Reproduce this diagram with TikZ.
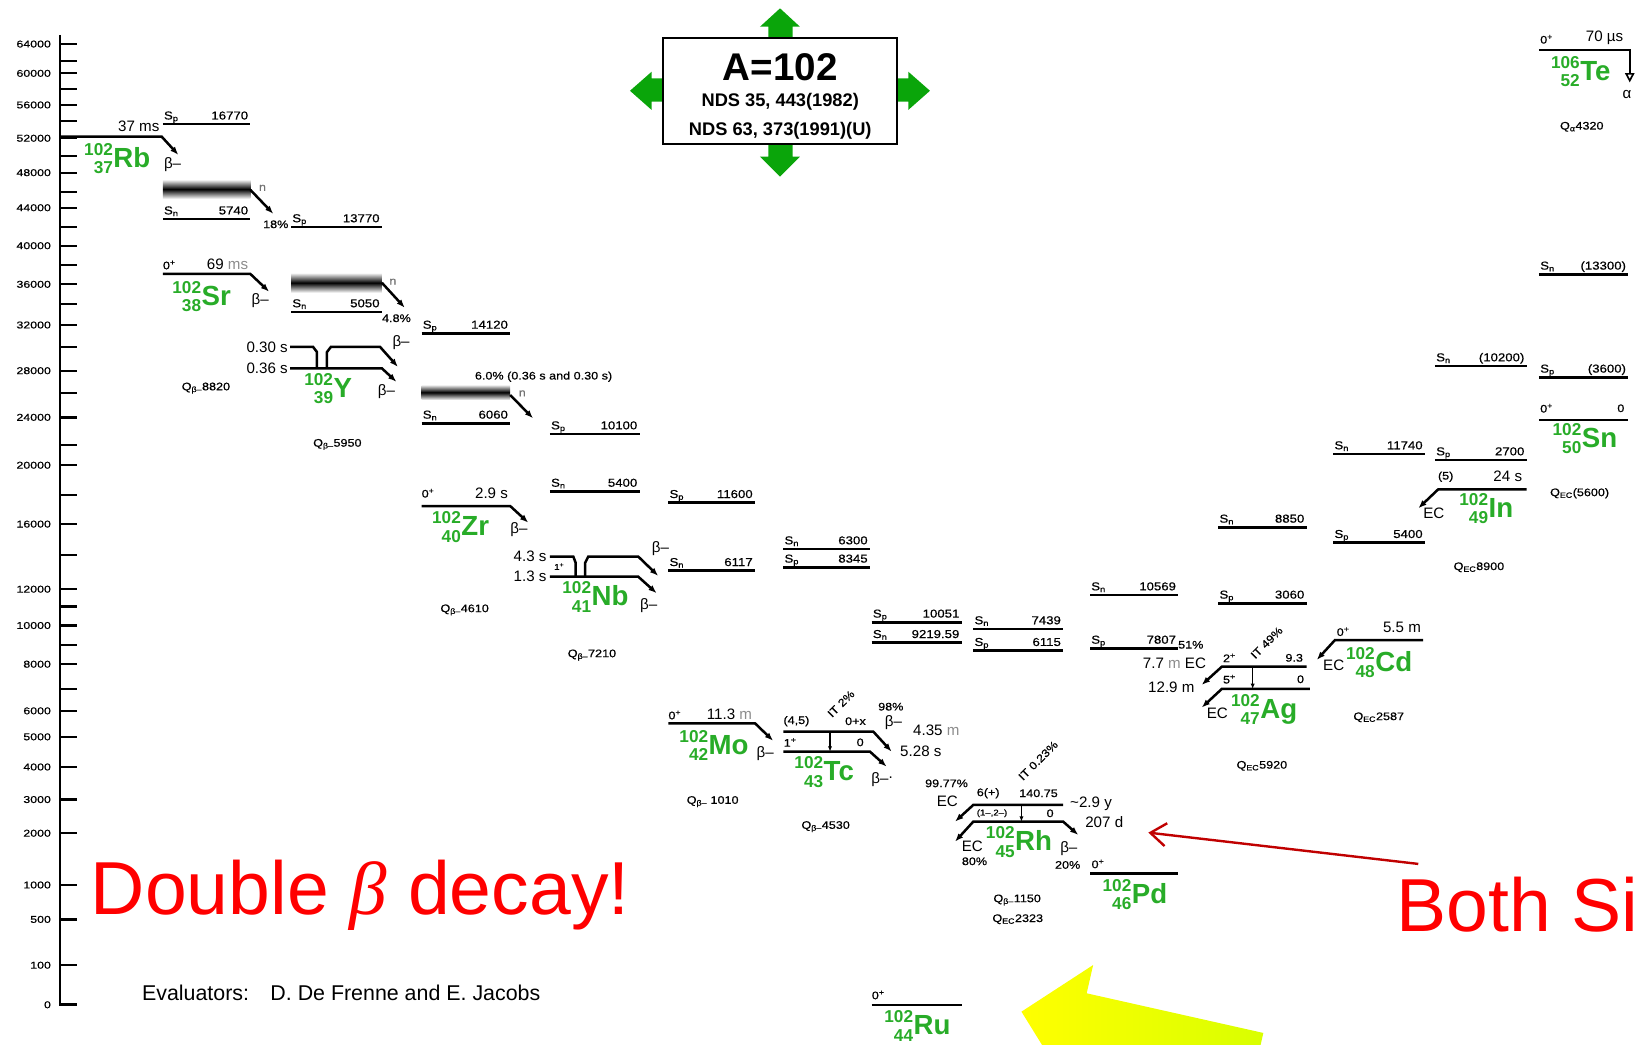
\documentclass[tikz,border=0pt]{standalone}
\usepackage{fontspec}
\setmainfont{Liberation Sans}
\newfontfamily\widesf{Liberation Sans}[FakeStretch=1.15,FakeBold=0.6]
\newfontfamily\axisf{Liberation Sans}[FakeStretch=1.25,FakeBold=0.6]
\newfontfamily\greekserif{Liberation Serif}
\usetikzlibrary{arrows.meta}

\definecolor{nucg}{RGB}{40,172,40}
\definecolor{boxg}{RGB}{10,165,10}
\definecolor{arrred}{RGB}{192,0,0}
\definecolor{midyel}{RGB}{212,246,44}

% nuclide symbol with mass number (A) and atomic number (Z) stacked on the left
\newcommand{\nuclide}[3]{\textcolor{nucg}{\bfseries
  \fontsize{16.5}{16.5}\selectfont
  \setbox0=\hbox{#1}\setbox2=\hbox{#2}%
  \ifdim\wd0>\wd2\relax\dimen0=\wd0\else\dimen0=\wd2\fi
  \hbox to\dimen0{\hss\llap{\raisebox{11.6pt}{\box0}}\llap{\raisebox{-6pt}{\box2}}}%
  \kern0.5pt\fontsize{26.5}{26.5}\selectfont#3}}

% separation-energy line: name, x1, x2, y, subscript, value
\newcommand{\slev}[6]{%
  \draw[lev] (#2,#4) -- (#3,#4);
  \node[sl,anchor=base west] (#1-s) at (#2+1,#4-4.5) {S\textsubscript{#5}};
  \node[sl,anchor=base east] (#1-v) at (#3-2,#4-4.5) {#6};
}

\begin{document}
\begin{tikzpicture}[x=1pt,y=-1pt,
  lev/.style={line width=2.4pt},
  dec/.style={line width=2.4pt,-{Latex[length=8pt,width=6pt]}},
  decb/.style={line width=2.4pt,{Latex[length=8pt,width=6pt]}-{Latex[length=8pt,width=6pt]}},
  itar/.style={line width=1.3pt,-{Latex[length=5pt,width=4pt]}},
  tick/.style={line width=2.2pt},
  axl/.style={font=\axisf\fontsize{9.5}{9.5}\selectfont,anchor=east,inner sep=0pt},
  sl/.style={font=\widesf\fontsize{11}{11}\selectfont,inner sep=0pt},
  sm/.style={font=\widesf\fontsize{10.5}{10.5}\selectfont,inner sep=0pt,anchor=west},
  hl/.style={font=\fontsize{14.5}{14.5}\selectfont,inner sep=0pt},
  band/.style={top color=black!6,bottom color=black!6,middle color=black},
  nuc/.style={anchor=base west,inner sep=0pt},
  big/.style={font=\fontsize{72}{72}\selectfont,text=red,inner sep=0pt,anchor=base west},
]
\useasboundingbox (0,0) rectangle (1568,1001);
\clip (0,0) rectangle (1568,1001);

% ---------------- energy axis ----------------
\draw[line width=2.6pt] (57.5,33.5) -- (57.5,963) -- (74,963);
\foreach \v/\yy in {64000/42.2,60000/70.3,56000/100.6,52000/132.5,48000/165.5,
  44000/199.1,40000/235.5,36000/272.5,32000/311.5,28000/355.3,24000/400,
  20000/445.9,16000/502.3,12000/564.7,10000/599.5,8000/636.6,6000/681.3,
  5000/706.2,4000/735.1,3000/766.3,2000/798.6,1000/848.2,500/881.2,100/925.1,0/963}{
  \draw[tick] (57.5,\yy) -- (74,\yy);
  \node[axl] (ax\v) at (49,\yy) {\v};
}
\foreach \yy in {58.2,85.6,115.7,149.5,183.7,217.3,254,291.4,332.3,376.4,
  426.4,474.4,531.6,581.2,618.2,660.1}
  \draw[tick] (57.5,\yy) -- (74,\yy);

% ---------------- title box with green arrows ----------------
\fill[boxg] (736.4,37) -- (736.4,25.6) -- (728.4,25.6) -- (747.6,8) -- (766.7,25.6) -- (759.7,25.6) -- (759.7,37) -- cycle;
\fill[boxg] (736.4,138) -- (736.4,150.2) -- (728.4,150.2) -- (747.6,169.3) -- (766.7,150.2) -- (759.7,150.2) -- (759.7,138) -- cycle;
\fill[boxg] (636,75) -- (624.6,75) -- (624.6,68.7) -- (603.8,87) -- (624.6,105.4) -- (624.6,97.5) -- (636,97.5) -- cycle;
\fill[boxg] (860,75) -- (870.5,75) -- (870.5,68.7) -- (891.3,87) -- (870.5,105.4) -- (870.5,97.5) -- (860,97.5) -- cycle;
\node[draw,line width=1.8pt,fill=white,minimum width=224pt,minimum height=101pt,inner sep=0pt] (title) at (747.8,87.3) {};
\node[anchor=base,inner sep=0pt,font=\bfseries\fontsize{37}{37}\selectfont] (mass) at (747.8,76.7) {A=102};
\node[anchor=base,inner sep=0pt,font=\bfseries\fontsize{17.5}{17.5}\selectfont] (ref1) at (747.8,102) {NDS 35, 443(1982)};
\node[anchor=base,inner sep=0pt,font=\bfseries\fontsize{17.5}{17.5}\selectfont] (ref2) at (747.8,129.4) {NDS 63, 373(1991)(U)};

% ---------------- Rb ----------------
\slev{rbp}{156}{240}{119}{p}{16770}
\draw[dec] (57.5,131) -- (155,131) -- (171,148.5);
\node[hl,anchor=east] (rbhl) at (153,121) {37 ms};
\node[hl,anchor=west] (rbb) at (157,158) {β–};
\node[nuc] (rb) at (80.5,160.5) {\nuclide{102}{37}{Rb}};
\shade[band] (156,172.5) rectangle (240,190);
\draw[dec] (240,182) -- (262,205);
\node[sm,text=black!55] (rbnn) at (248,180) {n};
\slev{rbn}{156}{240}{210}{n}{5740}
\node[sm] (rbpc) at (252,215) {18\%};
\node[sm] (rbq) at (174,372) {Q\textsubscript{β–}8820};

% ---------------- Sr ----------------
\draw[dec] (156,262.6) -- (240,262.6) -- (258,279.6);
\node[sm] (srj) at (156,254) {0\textsuperscript{+}};
\node[hl,anchor=east] (srhl) at (238,253) {69 {\color{black!45}ms}};
\node[hl,anchor=west] (srb) at (241,288) {β–};
\node[nuc] (sr) at (165,293) {\nuclide{102}{38}{Sr}};

% ---------------- Y ----------------
\slev{yp}{279}{366}{217.5}{p}{13770}
\shade[band] (279,262) rectangle (366,280);
\draw[dec] (366,271) -- (388,295);
\node[sm,text=black!55] (ynn) at (373,270) {n};
\slev{yn}{279}{366}{299}{n}{5050}
\node[sm] (ypc) at (366,305) {4.8\%};
\draw[lev] (278,332.4) -- (300,332.4) -- (303.8,337.4) -- (303.8,353);
\draw[dec] (313.4,353) -- (313.4,337.4) -- (317.2,332.4) -- (364.2,332.4) -- (381.4,351.7);
\draw[dec] (278,353) -- (366,353) -- (380,366);
\node[hl,anchor=east] (yhl1) at (276,332.4) {0.30 s};
\node[hl,anchor=east] (yhl2) at (276,353) {0.36 s};
\node[hl,anchor=west] (yb1) at (376,328) {β–};
\node[hl,anchor=west] (yb2) at (362,375.6) {β–};
\node[nuc] (y) at (291.5,381) {\nuclide{102}{39}{Y}};
\node[sm] (yq) at (300,426) {Q\textsubscript{β–}5950};

% ---------------- Zr ----------------
\slev{zrp}{404}{489}{319.5}{p}{14120}
\node[sm] (zrdn) at (455,361) {6.0\% (0.36 s and 0.30 s)};
\shade[band] (404,369) rectangle (489,383);
\draw[dec] (489,378.6) -- (511,401);
\node[sm,text=black!55] (zrnn) at (497,377) {n};
\slev{zrn}{404}{489}{405.7}{n}{6060}
\draw[dec] (404,485) -- (489,485) -- (506.4,501);
\node[sm] (zrj) at (404,472.8) {0\textsuperscript{+}};
\node[hl,anchor=east] (zrhl) at (487,472.8) {2.9 s};
\node[hl,anchor=west] (zrb) at (489,508) {β–};
\node[nuc] (zr) at (414,513.5) {\nuclide{102}{40}{Zr}};
\node[sm] (zrq) at (422,584.6) {Q\textsubscript{β–}4610};

% ---------------- Nb ----------------
\slev{nbp}{527}{613}{416}{p}{10100}
\slev{nbn}{527}{613}{471}{n}{5400}
\draw[lev] (527,533.5) -- (549.5,533.5) -- (551.8,539.6) -- (551.8,552.7);
\draw[dec] (560.7,552.7) -- (560.7,539.6) -- (563.8,533.5) -- (611.8,533.5) -- (630.9,552);
\draw[dec] (527,552.7) -- (611.7,552.7) -- (629.4,568.6);
\node[hl,anchor=east] (nbhl1) at (524,533) {4.3 s};
\node[hl,anchor=east] (nbhl2) at (524,552.7) {1.3 s};
\node[sm,font=\widesf\fontsize{8}{8}\selectfont] (nbj) at (531,543) {1\textsuperscript{+}};
\node[hl,anchor=west] (nbb1) at (624.6,525.5) {β–};
\node[hl,anchor=west] (nbb2) at (613.4,580) {β–};
\node[nuc] (nb) at (538.8,580.6) {\nuclide{102}{41}{Nb}};
\node[sm] (nbq) at (544,627.8) {Q\textsubscript{β–}7210};

% ---------------- Mo ----------------
\slev{mop}{640.5}{723.6}{481.8}{p}{11600}
\slev{mon}{640.5}{723.6}{547}{n}{6117}
\draw[dec] (640.5,693.2) -- (723.6,693.2) -- (741,710);
\node[sm] (moj) at (640.5,685.3) {0\textsuperscript{+}};
\node[hl,anchor=east] (mohl) at (721,684.5) {11.3 {\color{black!45}m}};
\node[hl,anchor=west] (mob) at (725,722) {β–};
\node[nuc] (mo) at (651,722.8) {\nuclide{102}{42}{Mo}};
\node[sm] (moq) at (658,768.3) {Q\textsubscript{β–} 1010};

% ---------------- Tc ----------------
\slev{tcn}{750.7}{833.8}{526.2}{n}{6300}
\slev{tcp}{750.7}{833.8}{543.7}{p}{8345}
\draw[dec] (750.7,701.2) -- (837,701.2) -- (854.6,720.4);
\draw[dec] (750.7,720.4) -- (833.8,720.4) -- (849.8,734.8);
\draw[itar] (795.5,701.2) -- (795.5,720.4);
\node[sm] (tcj1) at (750.7,691.2) {(4,5)};
\node[sm,anchor=east] (tce1) at (830,691.2) {0+x};
\node[sm] (tcj2) at (751,711.5) {1\textsuperscript{+}};
\node[sm,anchor=east] (tce2) at (828,711.5) {0};
\node[sm,anchor=center,rotate=45] (tcit) at (806,674.5) {IT 2\%};
\node[sm] (tcpc) at (841.5,677.3) {98\%};
\node[hl,anchor=west] (tcb1) at (848,693) {β–};
\node[hl,anchor=west] (tchl1) at (875,699.6) {4.35 {\color{black!45}m}};
\node[hl,anchor=west] (tchl2) at (862.6,720.4) {5.28 s};
\node[hl,anchor=west] (tcb2) at (835,747.6) {β–\raisebox{5pt}{.}};
\node[nuc] (tc) at (761.2,748.4) {\nuclide{102}{43}{Tc}};
\node[sm] (tcq) at (768,792.3) {Q\textsubscript{β–}4530};

% ---------------- Ru ----------------
\slev{rup}{835.4}{921.7}{596.4}{p}{10051}
\slev{run}{835.4}{921.7}{616}{n}{9219.59}
\draw[lev] (835.4,963.2) -- (921.7,963.2);
\node[sm] (ruj) at (835.4,953.6) {0\textsuperscript{+}};
\node[nuc] (ru) at (847.4,991.8) {\nuclide{102}{44}{Ru}};

% ---------------- Rh ----------------
\slev{rhn}{932.8}{1019}{602.8}{n}{7439}
\slev{rhp}{932.8}{1019}{623.6}{p}{6115}
\draw[dec] (1019,771.5) -- (932.8,771.5) -- (915.3,787.5);
\draw[decb] (915.3,806.7) -- (932.8,787.5) -- (1019,787.5) -- (1033.5,800.3);
\draw[itar] (979,771.5) -- (979,787.5);
\node[sm] (rhj1) at (936,760.3) {6(+)};
\node[sm,anchor=east] (rhe1) at (1014,760.3) {140.75};
\node[sm,font=\widesf\fontsize{8}{8}\selectfont] (rhj2) at (936,779.5) {(1–,2–)};
\node[sm,anchor=east] (rhe2) at (1010,779.5) {0};
\node[sm,anchor=center,rotate=45] (rhit) at (995,729) {IT 0.23\%};
\node[sm] (rhpc1) at (886.5,750.8) {99.77\%};
\node[hl,anchor=west] (rhec1) at (897.7,768.3) {EC};
\node[hl,anchor=west] (rhhl1) at (1025.5,770) {\textasciitilde 2.9 y};
\node[hl,anchor=west] (rhhl2) at (1040,787.5) {207 d};
\node[hl,anchor=west] (rhb) at (1016,813) {β–};
\node[sm] (rhpc2) at (1011,829) {20\%};
\node[hl,anchor=west] (rhec2) at (921.7,811.5) {EC};
\node[sm] (rhpc3) at (921.7,825.5) {80\%};
\node[nuc] (rh) at (944.8,815.4) {\nuclide{102}{45}{Rh}};
\node[sm] (rhq1) at (952,862.6) {Q\textsubscript{β–}1150};
\node[sm] (rhq2) at (951,881) {Q\textsubscript{EC}2323};

% ---------------- Pd ----------------
\slev{pdn}{1044.7}{1129.3}{570.3}{n}{10569}
\slev{pdp}{1044.7}{1129.3}{621.4}{p}{7807}
\draw[lev] (1044.7,837) -- (1129.3,837);
\node[sm] (pdj) at (1046,828) {0\textsuperscript{+}};
\node[nuc] (pd) at (1056.6,865.9) {\nuclide{102}{46}{Pd}};
\node[sm] (agpc) at (1129,618) {51\%};
\node[hl,anchor=east] (aghl1) at (1156,635.7) {7.7 {\color{black!45}m} EC};
\node[hl,anchor=east] (aghl2) at (1145,658.7) {12.9 m};

% ---------------- Ag ----------------
\slev{agn}{1167.6}{1252.3}{505.4}{n}{8850}
\slev{agp}{1167.6}{1252.3}{578.2}{p}{3060}
\draw[dec] (1252.3,639) -- (1171,639) -- (1151.7,656.5);
\draw[dec] (1255.5,660.3) -- (1171,660.3) -- (1151.7,678.2);
\draw[itar] (1200.6,639) -- (1200.6,660.3);
\node[sm] (agj1) at (1172,630.5) {2\textsuperscript{+}};
\node[sm,anchor=east] (age1) at (1249,630.5) {9.3};
\node[sm] (agj2) at (1172,651) {5\textsuperscript{+}};
\node[sm,anchor=east] (age2) at (1250,651) {0};
\node[sm,anchor=center,rotate=45] (agit) at (1214,616) {IT 49\%};
\node[hl,anchor=west] (agec) at (1156.5,683.6) {EC};
\node[nuc] (ag) at (1179.7,688.3) {\nuclide{102}{47}{Ag}};
\node[sm] (agq) at (1185,734) {Q\textsubscript{EC}5920};

% ---------------- Cd ----------------
\slev{cdn}{1277.8}{1365.7}{435.1}{n}{11740}
\slev{cdp}{1277.8}{1365.7}{520.1}{p}{5400}
\draw[dec] (1364,613.4) -- (1279.5,613.4) -- (1262,632.5);
\node[sm] (cdj) at (1281,605.4) {0\textsuperscript{+}};
\node[hl,anchor=east] (cdhl) at (1362,601.2) {5.5 m};
\node[hl,anchor=west] (cdec) at (1268,637.3) {EC};
\node[nuc] (cd) at (1289.9,643.6) {\nuclide{102}{48}{Cd}};
\node[sm] (cdq) at (1297,687.5) {Q\textsubscript{EC}2587};

% ---------------- In ----------------
\slev{inn}{1375.3}{1463.2}{350.8}{n}{(10200)}
\slev{inp}{1375.3}{1463.2}{440.9}{p}{2700}
\draw[dec] (1463.2,469) -- (1378.4,469) -- (1359.3,487.2);
\node[sm] (inj) at (1378,456.9) {(5)};
\node[hl,anchor=east] (inhl) at (1459,456.9) {24 s};
\node[hl,anchor=west] (inec) at (1364,492) {EC};
\node[nuc] (in) at (1398.5,496) {\nuclide{102}{49}{In}};
\node[sm] (inq) at (1393,543.7) {Q\textsubscript{EC}8900};

% ---------------- Sn and Te ----------------
\slev{snn}{1475}{1560.6}{262.9}{n}{(13300)}
\slev{snp}{1475}{1560.6}{361.6}{p}{(3600)}
\draw[lev] (1475,402.5) -- (1560.6,402.5);
\node[sm] (snj) at (1476,391.3) {0\textsuperscript{+}};
\node[sm,anchor=east] (sne) at (1557,391.3) {0};
\node[nuc] (sn) at (1487.9,428.8) {\nuclide{102}{50}{Sn}};
\node[sm] (snq) at (1485.5,472.8) {Q\textsubscript{EC}(5600)};
\draw[line width=2.4pt,-{Triangle[open,length=9pt,width=9pt,line width=1.6pt]}] (1475,47.9) -- (1562,47.9) -- (1562,79);
\node[sm] (tej) at (1476,37.7) {0\textsuperscript{+}};
\node[hl,anchor=east] (tehl) at (1556,36) {70 µs};
\node[hl,anchor=west] (tea) at (1555,90.7) {α};
\node[nuc] (te) at (1486.4,76.8) {\nuclide{106}{52}{Te}};
\node[sm] (teq) at (1495,121.5) {Q\textsubscript{α}4320};

% ---------------- footer ----------------
\node[anchor=base west,inner sep=0pt,font=\fontsize{20.5}{20.5}\selectfont] (eval) at (136,958.5) {Evaluators:};
\node[anchor=base west,inner sep=0pt,font=\fontsize{20.5}{20.5}\selectfont] (evnames) at (259,958.5) {D. De Frenne and E. Jacobs};

% ---------------- annotations ----------------
\node[big] (dbl) at (87,876) {Double {\greekserif\itshape β} decay!};
\node[big] (both) at (1338,893) {Both Si};
\coordinate (redtail) at (1359.3,828);
\coordinate (redtip) at (1100.6,798);
\draw[arrred,line width=2.3pt,-{Straight Barb[length=15pt,width=22pt]}] (redtail) -- (redtip);
\shade[left color=yellow,middle color=midyel,right color=yellow!85!green]
  (979,969.6) -- (1047.7,924.9) -- (1041.5,952) -- (1210.8,990)
  -- (1197.2,1050.5) -- (1027.9,1012.5) -- (1022.1,1039.3) -- cycle;
\end{tikzpicture}
\end{document}
